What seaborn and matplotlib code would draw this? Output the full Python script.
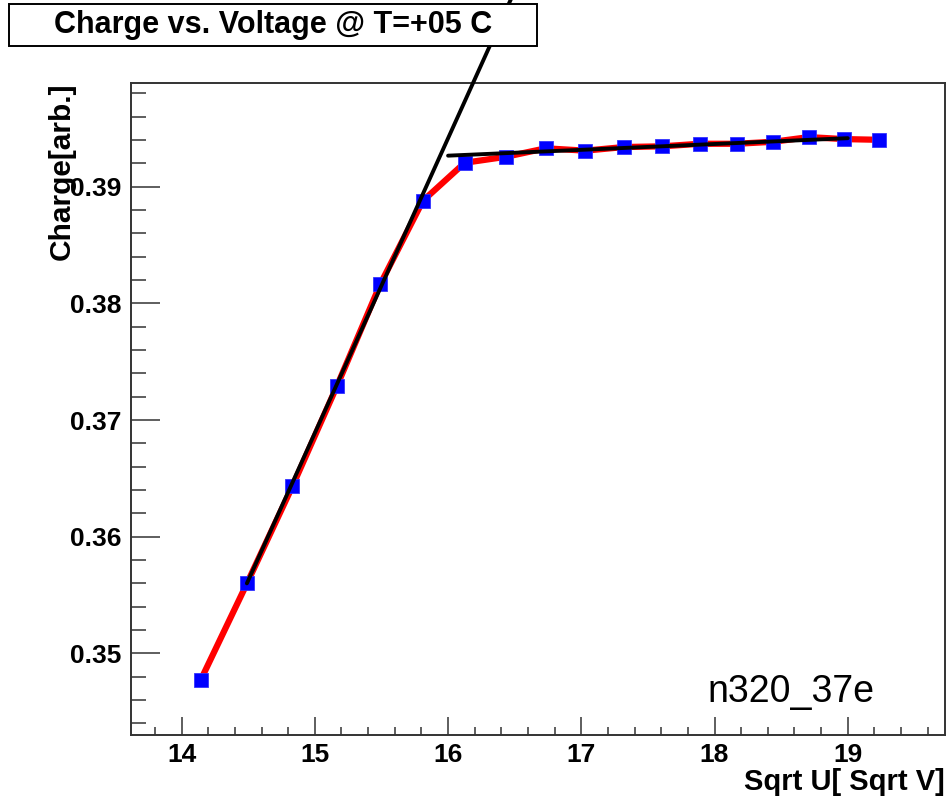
import numpy as np
import pandas as pd
import matplotlib
matplotlib.use("Agg")
import matplotlib.pyplot as plt
import seaborn as sns
from matplotlib.patches import Rectangle
from matplotlib.ticker import MultipleLocator, FormatStrFormatter

# ---- data ----
sqrt_u = [14.142, 14.491, 14.832, 15.166, 15.492, 15.811, 16.125, 16.432, 16.733,
          17.029, 17.321, 17.607, 17.889, 18.166, 18.439, 18.708, 18.974, 19.235]
charge = [0.34768, 0.35601, 0.36433, 0.37292, 0.38167, 0.38880, 0.39206, 0.39257, 0.39330,
          0.39310, 0.39341, 0.39347, 0.39369, 0.39369, 0.39386, 0.39426, 0.39409, 0.39403]

# linear fits drawn in the reference (rising edge, plateau)
fit_rise_x = [14.49, 16.50]
fit_rise_y = [0.3560, 0.4068]
fit_flat_x = [16.0, 19.0]
fit_flat_y = [0.39267, 0.39417]

title = "Charge vs. Voltage @ T=+05 C"
xlabel = "Sqrt U[ Sqrt V]"
ylabel = "Charge[arb.]"
tag = "n320_37e"

df = pd.DataFrame({"sqrt_u": sqrt_u, "charge": charge})
rise = pd.DataFrame({"x": fit_rise_x, "y": fit_rise_y})
flat = pd.DataFrame({"x": fit_flat_x, "y": fit_flat_y})

sns.set_theme(style="white")
plt.rcParams["font.family"] = ["Liberation Sans", "DejaVu Sans"]
plt.rcParams["text.color"] = "black"
plt.rcParams["axes.labelcolor"] = "black"
plt.rcParams["xtick.color"] = "black"
plt.rcParams["ytick.color"] = "black"

W, H = 947, 805
fig = plt.figure(figsize=(W / 100, H / 100), dpi=100)
fig.patch.set_facecolor("white")
L, R, T, B = 131, 945, 83, 735
ax = fig.add_axes([L / W, 1 - B / H, (R - L) / W, (B - T) / H])
ax.set_facecolor("white")

sns.lineplot(data=df, x="sqrt_u", y="charge", ax=ax, color="red", lw=4.5,
             marker="s", markersize=9.5, markerfacecolor="blue",
             markeredgecolor="#3333ff", markeredgewidth=0.6, zorder=3)
sns.lineplot(data=rise, x="x", y="y", ax=ax, color="black", lw=2.8, zorder=4,
             clip_on=False)
sns.lineplot(data=flat, x="x", y="y", ax=ax, color="black", lw=2.8, zorder=4)

ax.set_xlim(13.62, 19.73)
ax.set_ylim(0.3430, 0.3989)
ax.set_xlabel("")
ax.set_ylabel("")

ax.xaxis.set_major_locator(MultipleLocator(1))
ax.xaxis.set_minor_locator(MultipleLocator(0.2))
ax.yaxis.set_major_locator(MultipleLocator(0.01))
ax.yaxis.set_minor_locator(MultipleLocator(0.002))
ax.xaxis.set_major_formatter(FormatStrFormatter("%d"))
ax.yaxis.set_major_formatter(FormatStrFormatter("%.2f"))

ax.tick_params(axis="y", which="major", direction="in", length=21, width=1.1,
               color="#333333", left=True, right=False, pad=7,
               labelsize=19, labelcolor="black")
ax.tick_params(axis="y", which="minor", direction="in", length=11, width=1.1,
               color="#333333", left=True, right=False)
ax.tick_params(axis="x", which="major", direction="in", length=13, width=1.1,
               color="#333333", bottom=True, top=False, pad=6,
               labelsize=19, labelcolor="black")
ax.tick_params(axis="x", which="minor", direction="in", length=6, width=1.1,
               color="#333333", bottom=True, top=False)
for lab in ax.get_xticklabels() + ax.get_yticklabels():
    lab.set_fontweight("bold")

for s in ax.spines.values():
    s.set_visible(True)
    s.set_color("#333333")
    s.set_linewidth(1.4)

# title box
fig.patches.append(Rectangle((9 / W, 1 - 46 / H), (537 - 9) / W, (46 - 4) / H,
                             transform=fig.transFigure, facecolor="white",
                             edgecolor="black", lw=1.4, zorder=10))
fig.text(273 / W, 1 - 25 / H, title, ha="center", va="center", color="black",
         fontsize=22, fontweight="bold", zorder=11)

fig.text(62 / W, 1 - 83 / H, ylabel, rotation=90, ha="center", va="top",
         fontsize=21.5, fontweight="bold", color="black")
fig.text(945 / W, 1 - 782 / H, xlabel, ha="right", va="center",
         fontsize=21, fontweight="bold", color="black")
fig.text(707 / W, 1 - 702 / H, tag, ha="left", va="baseline", fontsize=27,
         color="black")

fig.savefig("out.png", dpi=100, facecolor="white")
